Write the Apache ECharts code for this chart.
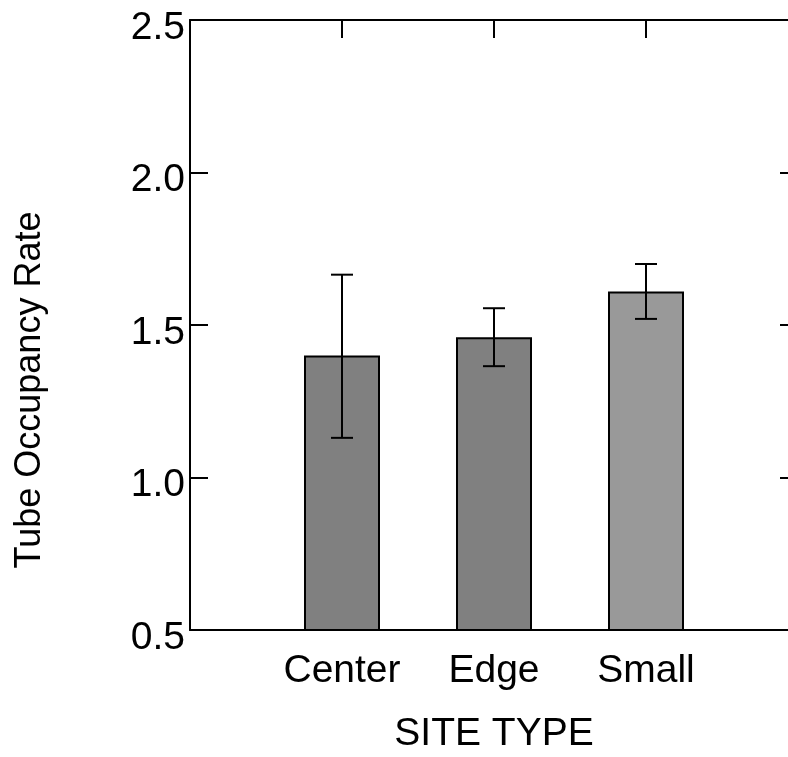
<!DOCTYPE html>
<html>
<head>
<meta charset="utf-8">
<script src="https://cdn.jsdelivr.net/npm/echarts@6/dist/echarts.min.js"></script>
<style>html,body{margin:0;padding:0;background:#fff;}#c{width:788px;height:757px;}</style>
</head>
<body>
<div id="c"></div>
<script>
const categories = ['Center', 'Edge', 'Small'];
const means = [1.40, 1.46, 1.61];
const errLow = [1.13, 1.365, 1.52];
const errHigh = [1.665, 1.555, 1.70];
const barColors = ['#808080', '#808080', '#999999'];
const yTicks = [0.5, 1.0, 1.5, 2.0, 2.5];

const FONT = "'Liberation Sans', Arial, sans-serif";
const FS = 39;
const axisData = [''].concat(categories).concat(['']);
const barData = [null].concat(means.map((v, i) => ({value: v, itemStyle: {color: barColors[i]}}))).concat([null]);
const errData = categories.map((c, i) => [i + 1, errLow[i], errHigh[i]]);

const chart = echarts.init(document.getElementById('c'), null, {renderer: 'canvas'});
chart.setOption({
  animation: false,
  backgroundColor: '#fff',
  grid: {left: 190, width: 608, top: 20, height: 610, containLabel: false, outerBoundsMode: 'none'},
  xAxis: [{
    type: 'category', data: axisData, boundaryGap: false, position: 'bottom',
    axisLine: {show: true, lineStyle: {color: '#000', width: 2}},
    axisTick: {show: false},
    axisLabel: {color: '#000', fontFamily: FONT, fontSize: FS, margin: 22, interval: 0},
    splitLine: {show: false},
    name: 'SITE TYPE', nameLocation: 'middle', nameGap: 85,
    nameTextStyle: {color: '#000', fontFamily: FONT, fontSize: FS}
  }, {
    type: 'category', data: axisData, boundaryGap: false, position: 'top',
    axisLine: {show: true, lineStyle: {color: '#000', width: 2}},
    axisTick: {show: true, inside: true, length: 18, lineStyle: {color: '#000', width: 2},
      interval: function (idx) { return idx >= 1 && idx <= categories.length; }},
    axisLabel: {show: false}, splitLine: {show: false}
  }],
  yAxis: [{
    type: 'value', min: yTicks[0], max: yTicks[yTicks.length - 1], interval: 0.5, position: 'left',
    axisLine: {show: true, lineStyle: {color: '#000', width: 2}},
    axisTick: {show: true, inside: true, length: 18, lineStyle: {color: '#000', width: 2}},
    axisLabel: {color: '#000', fontFamily: FONT, fontSize: FS, margin: 5,
      verticalAlign: 'top', lineHeight: 16, formatter: v => v.toFixed(1)},
    splitLine: {show: false}
  }, {
    type: 'value', min: yTicks[0], max: yTicks[yTicks.length - 1], interval: 0.5, position: 'right',
    axisLine: {show: true, lineStyle: {color: '#000', width: 2}},
    axisTick: {show: true, inside: true, length: 18, lineStyle: {color: '#000', width: 2}},
    axisLabel: {show: false}, splitLine: {show: false}
  }],
  graphic: [{
    type: 'text', x: 30, y: 390, rotation: Math.PI / 2,
    style: {text: 'Tube Occupancy Rate', fill: '#000', font: '36px ' + FONT,
      textAlign: 'center', textVerticalAlign: 'middle'}
  }],
  series: [{
    type: 'bar', xAxisIndex: 0, yAxisIndex: 0, data: barData, barWidth: 76,
    itemStyle: {borderColor: '#000', borderWidth: 2}, z: 2
  }, {
    type: 'custom', xAxisIndex: 0, yAxisIndex: 0, data: errData, z: 5,
    renderItem: function (params, api) {
      const x = api.value(0);
      const lo = api.coord([x, api.value(1)]);
      const hi = api.coord([x, api.value(2)]);
      const hw = 11;
      const st = {stroke: '#000', lineWidth: 2};
      return {type: 'group', children: [
        {type: 'line', shape: {x1: lo[0], y1: lo[1], x2: hi[0], y2: hi[1]}, style: st},
        {type: 'line', shape: {x1: hi[0] - hw, y1: hi[1], x2: hi[0] + hw, y2: hi[1]}, style: st},
        {type: 'line', shape: {x1: lo[0] - hw, y1: lo[1], x2: lo[0] + hw, y2: lo[1]}, style: st}
      ]};
    }
  }]
});
</script>
</body>
</html>
